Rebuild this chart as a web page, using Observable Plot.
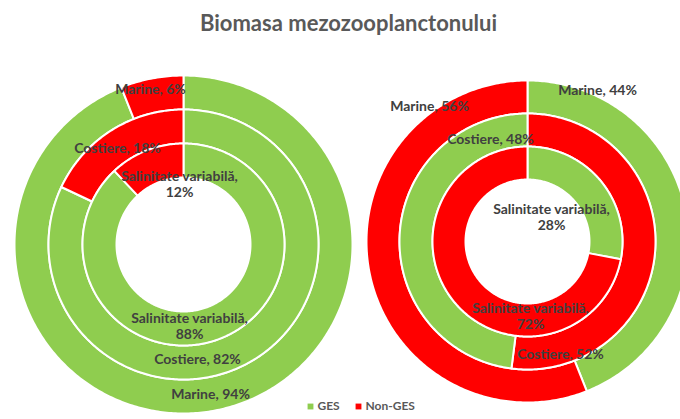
<!DOCTYPE html>
<html>
<head>
<meta charset="utf-8">
<script src="https://cdn.jsdelivr.net/npm/d3@7"></script>
<script src="https://cdn.jsdelivr.net/npm/@observablehq/plot@0.6"></script>
<style>
  html, body { margin: 0; padding: 0; background: #fff; overflow: hidden; }
  #chart svg { display: block; }
</style>
</head>
<body>
<div id="chart"></div>
<script>
// ---------- DATA ----------
const title = "Biomasa mezozooplanctonului";
const statuses = ["GES", "Non-GES"];
const statusColors = ["#8FCD4F", "#FF0000"];
const rings = ["Marine", "Costiere", "Salinitate variabilă"]; // outer -> inner

// Left doughnut (%)
const leftGES    = [94, 82, 88];
const leftNonGES = [6, 18, 12];
const leftOrder  = [["GES", "Non-GES"], ["GES", "Non-GES"], ["GES", "Non-GES"]]; // clockwise from 12 o'clock

// Right doughnut (%)
const rightGES    = [44, 48, 28];
const rightNonGES = [56, 52, 72];
const rightOrder  = [["GES", "Non-GES"], ["Non-GES", "GES"], ["GES", "Non-GES"]];

// ---------- LAYOUT (not data) ----------
const W = 680, H = 419;
const donutLayout = [
  { cx: 183, cy: 244, radii: [169, 135, 101, 67] },
  { cx: 527, cy: 241, radii: [161, 128, 95, 62] }
];
// manually placed data-label anchors [x, y] per ring, per status
const labelLayout = [
  { // left
    "Marine":               { "GES": [210, 393], "Non-GES": [150, 88] },
    "Costiere":             { "GES": [197, 358], "Non-GES": [117, 147] },
    "Salinitate variabilă": { "GES": [189, 325], "Non-GES": [179, 183] }
  },
  { // right
    "Marine":               { "GES": [597, 89],  "Non-GES": [429, 105] },
    "Costiere":             { "GES": [490, 138], "Non-GES": [560, 353] },
    "Salinitate variabilă": { "GES": [551, 216], "Non-GES": [530, 315] }
  }
];
const legendOffsets = [-30, 18];

// ---------- BUILD ----------
const polys = [];
const labels = [];
function buildDonut(d, ges, non, order) {
  const L = donutLayout[d];
  rings.forEach((ring, k) => {
    const vals = { "GES": ges[k], "Non-GES": non[k] };
    const total = ges[k] + non[k];
    let start = 0;
    order[k].forEach(st => {
      const a0 = start / total * 2 * Math.PI;
      const a1 = (start + vals[st]) / total * 2 * Math.PI;
      start += vals[st];
      const id = `${d}-${k}-${st}`;
      const rOut = L.radii[k], rIn = L.radii[k + 1];
      const n = Math.max(2, Math.ceil((a1 - a0) / (Math.PI / 240)));
      for (let i = 0; i <= n; i++) {
        const a = a0 + (a1 - a0) * i / n;
        polys.push({ id, status: st, x: L.cx + rOut * Math.sin(a), y: L.cy - rOut * Math.cos(a) });
      }
      for (let i = n; i >= 0; i--) {
        const a = a0 + (a1 - a0) * i / n;
        polys.push({ id, status: st, x: L.cx + rIn * Math.sin(a), y: L.cy - rIn * Math.cos(a) });
      }
      const pos = labelLayout[d][ring][st];
      const sep = ring.length > 12 ? ",\n" : ", ";
      labels.push({ x: pos[0], y: pos[1], text: `${ring}${sep}${vals[st]}%` });
    });
  });
}
buildDonut(0, leftGES, leftNonGES, leftOrder);
buildDonut(1, rightGES, rightNonGES, rightOrder);

const font = "Lato, 'Open Sans', sans-serif";

const chart = Plot.plot({
  width: W,
  height: H,
  margin: 0,
  style: { fontFamily: font, background: "#fff" },
  x: { domain: [0, W], axis: null },
  y: { domain: [H, 0], axis: null },
  color: { domain: statuses, range: statusColors },
  marks: [
    Plot.line(polys, {
      x: "x", y: "y", z: "id", fill: "status",
      stroke: "white", strokeWidth: 2, curve: "linear-closed"
    }),
    Plot.text(labels, {
      x: "x", y: "y", text: "text",
      fill: "#404040", fontSize: 14, fontWeight: "bold", lineHeight: 1.15
    }),
    Plot.text([title], {
      frameAnchor: "top", lineAnchor: "middle", dx: 8, dy: 23,
      fontSize: 22, fontWeight: "bold", fill: "#595959"
    }),
    ...statuses.flatMap((s, i) => [
      Plot.dot([s], {
        frameAnchor: "bottom", dx: legendOffsets[i], dy: -13,
        symbol: "square", r: 3.3, fill: d => d, stroke: null
      }),
      Plot.text([s], {
        frameAnchor: "bottom", lineAnchor: "middle", textAnchor: "start",
        dx: legendOffsets[i] + 7, dy: -13,
        fontSize: 12, fontWeight: "bold", fill: "#595959"
      })
    ])
  ]
});
document.getElementById("chart").appendChild(chart);
</script>
</body>
</html>
